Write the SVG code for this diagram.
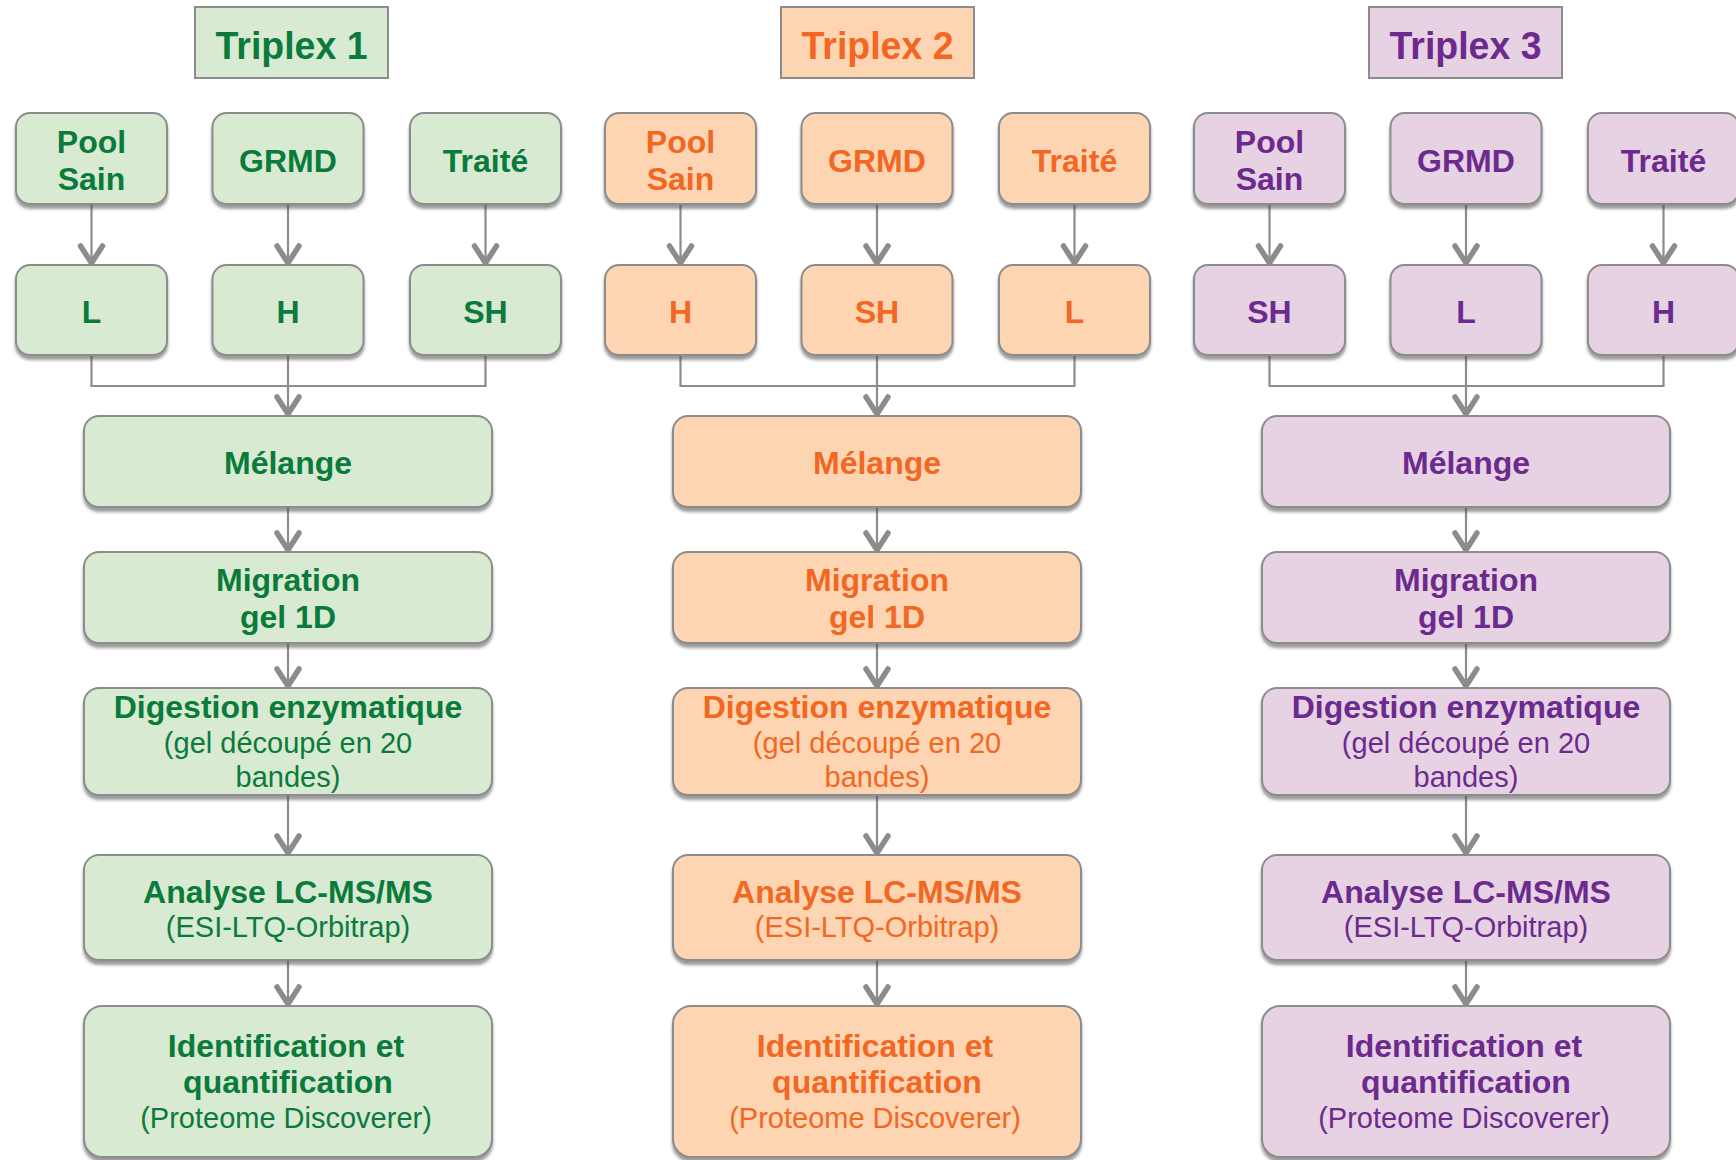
<svg xmlns="http://www.w3.org/2000/svg" width="1736" height="1160" viewBox="0 0 1736 1160">
  <defs>
    <filter id="shadow" x="-5%" y="-5%" width="110%" height="125%">
      <feDropShadow dx="0" dy="4" stdDeviation="1.6" flood-color="#4a4a4a" flood-opacity="0.55"/>
    </filter>
    <marker id="chev" markerUnits="userSpaceOnUse" viewBox="-26 -15 30 30" refX="0" refY="0" markerWidth="30" markerHeight="30" orient="auto">
      <path d="M-19,-11 L-2,0 L-19,11" fill="none" stroke="#8c8c8c" stroke-width="5.5" stroke-linejoin="round" stroke-linecap="round"/>
    </marker>
    <style>
      text { font-family: "Liberation Sans", Arial, sans-serif; text-anchor: middle; }
      .b { font-weight: bold; font-size: 32px; }
      .r { font-weight: normal; font-size: 29px; }
      .ttl { font-weight: bold; font-size: 39px; }
      .box { stroke: #8c8c8c; stroke-width: 2; filter: url(#shadow); }
      .tbox { stroke: #8c8c8c; stroke-width: 2; }
      .wire { fill: none; stroke: #8c8c8c; stroke-width: 2.2; }
      .arrow { fill: none; stroke: #8c8c8c; stroke-width: 2.2; marker-end: url(#chev); }
      .c1 .box, .c1 .tbox { fill: #d9ead2; }
      .c1 text { fill: #0a7b3b; }
      .c2 .box, .c2 .tbox { fill: #fdd5b2; }
      .c2 text { fill: #f26722; }
      .c3 .box, .c3 .tbox { fill: #e6d2e3; }
      .c3 text { fill: #6c2a8e; }
    </style>
  </defs>

  <rect width="1736" height="1160" fill="#ffffff"/>

  <!-- connectors of the three columns (same layout, shifted by 589px) -->
  <g id="connectors">
    <g id="wires-1">
      <line class="arrow" x1="91.5" y1="204" x2="91.5" y2="265"/>
      <line class="arrow" x1="288" y1="204" x2="288" y2="265"/>
      <line class="arrow" x1="485.5" y1="204" x2="485.5" y2="265"/>
      <polyline class="wire" points="91.5,355 91.5,386 485.5,386 485.5,355"/>
      <line class="arrow" x1="288" y1="355" x2="288" y2="416"/>
      <line class="arrow" x1="288" y1="507" x2="288" y2="552"/>
      <line class="arrow" x1="288" y1="643" x2="288" y2="688"/>
      <line class="arrow" x1="288" y1="795" x2="288" y2="855"/>
      <line class="arrow" x1="288" y1="960" x2="288" y2="1006"/>
    </g>
    <g id="wires-2" transform="translate(589,0)">
      <line class="arrow" x1="91.5" y1="204" x2="91.5" y2="265"/>
      <line class="arrow" x1="288" y1="204" x2="288" y2="265"/>
      <line class="arrow" x1="485.5" y1="204" x2="485.5" y2="265"/>
      <polyline class="wire" points="91.5,355 91.5,386 485.5,386 485.5,355"/>
      <line class="arrow" x1="288" y1="355" x2="288" y2="416"/>
      <line class="arrow" x1="288" y1="507" x2="288" y2="552"/>
      <line class="arrow" x1="288" y1="643" x2="288" y2="688"/>
      <line class="arrow" x1="288" y1="795" x2="288" y2="855"/>
      <line class="arrow" x1="288" y1="960" x2="288" y2="1006"/>
    </g>
    <g id="wires-3" transform="translate(1178,0)">
      <line class="arrow" x1="91.5" y1="204" x2="91.5" y2="265"/>
      <line class="arrow" x1="288" y1="204" x2="288" y2="265"/>
      <line class="arrow" x1="485.5" y1="204" x2="485.5" y2="265"/>
      <polyline class="wire" points="91.5,355 91.5,386 485.5,386 485.5,355"/>
      <line class="arrow" x1="288" y1="355" x2="288" y2="416"/>
      <line class="arrow" x1="288" y1="507" x2="288" y2="552"/>
      <line class="arrow" x1="288" y1="643" x2="288" y2="688"/>
      <line class="arrow" x1="288" y1="795" x2="288" y2="855"/>
      <line class="arrow" x1="288" y1="960" x2="288" y2="1006"/>
    </g>
  </g>

  <!-- Triplex 1 (green) -->
  <g id="triplex1" class="c1">
    <g id="t1-title"><rect class="tbox" x="195" y="7" width="193" height="71"/><text class="ttl" x="291.5" y="59" textLength="152" lengthAdjust="spacingAndGlyphs">Triplex 1</text></g>
    <g id="t1-pool"><rect class="box" x="16" y="113" width="151" height="91" rx="14"/><text class="b" x="91.5" y="153">Pool</text><text class="b" x="91.5" y="190">Sain</text></g>
    <g id="t1-grmd"><rect class="box" x="212.5" y="113" width="151" height="91" rx="14"/><text class="b" x="288" y="172">GRMD</text></g>
    <g id="t1-traite"><rect class="box" x="410" y="113" width="151" height="91" rx="14"/><text class="b" x="485.5" y="172">Traité</text></g>
    <g id="t1-l"><rect class="box" x="16" y="265" width="151" height="90" rx="14"/><text class="b" x="91.5" y="323">L</text></g>
    <g id="t1-h"><rect class="box" x="212.5" y="265" width="151" height="90" rx="14"/><text class="b" x="288" y="323">H</text></g>
    <g id="t1-sh"><rect class="box" x="410" y="265" width="151" height="90" rx="14"/><text class="b" x="485.5" y="323">SH</text></g>
    <g id="t1-melange"><rect class="box" x="84" y="416" width="408" height="91" rx="15"/><text class="b" x="288" y="474">Mélange</text></g>
    <g id="t1-migration"><rect class="box" x="84" y="552" width="408" height="91" rx="15"/><text class="b" x="288" y="591">Migration</text><text class="b" x="288" y="628">gel 1D</text></g>
    <g id="t1-digestion"><rect class="box" x="84" y="688" width="408" height="107" rx="15"/><text class="b" x="288" y="718">Digestion enzymatique</text><text class="r" x="288" y="753">(gel découpé en 20</text><text class="r" x="288" y="787">bandes)</text></g>
    <g id="t1-analyse"><rect class="box" x="84" y="855" width="408" height="105" rx="15"/><text class="b" x="288" y="903">Analyse LC-MS/MS</text><text class="r" x="288" y="937">(ESI-LTQ-Orbitrap)</text></g>
    <g id="t1-ident"><rect class="box" x="84" y="1006" width="408" height="151" rx="18"/><text class="b" x="286" y="1057">Identification et</text><text class="b" x="288" y="1093">quantification</text><text class="r" x="286" y="1128">(Proteome Discoverer)</text></g>
  </g>

  <!-- Triplex 2 (orange) -->
  <g id="triplex2" class="c2" transform="translate(589,0)">
    <g id="t2-title"><rect class="tbox" x="192" y="7" width="193" height="71"/><text class="ttl" x="288.5" y="59" textLength="152" lengthAdjust="spacingAndGlyphs">Triplex 2</text></g>
    <g id="t2-pool"><rect class="box" x="16" y="113" width="151" height="91" rx="14"/><text class="b" x="91.5" y="153">Pool</text><text class="b" x="91.5" y="190">Sain</text></g>
    <g id="t2-grmd"><rect class="box" x="212.5" y="113" width="151" height="91" rx="14"/><text class="b" x="288" y="172">GRMD</text></g>
    <g id="t2-traite"><rect class="box" x="410" y="113" width="151" height="91" rx="14"/><text class="b" x="485.5" y="172">Traité</text></g>
    <g id="t2-h"><rect class="box" x="16" y="265" width="151" height="90" rx="14"/><text class="b" x="91.5" y="323">H</text></g>
    <g id="t2-sh"><rect class="box" x="212.5" y="265" width="151" height="90" rx="14"/><text class="b" x="288" y="323">SH</text></g>
    <g id="t2-l"><rect class="box" x="410" y="265" width="151" height="90" rx="14"/><text class="b" x="485.5" y="323">L</text></g>
    <g id="t2-melange"><rect class="box" x="84" y="416" width="408" height="91" rx="15"/><text class="b" x="288" y="474">Mélange</text></g>
    <g id="t2-migration"><rect class="box" x="84" y="552" width="408" height="91" rx="15"/><text class="b" x="288" y="591">Migration</text><text class="b" x="288" y="628">gel 1D</text></g>
    <g id="t2-digestion"><rect class="box" x="84" y="688" width="408" height="107" rx="15"/><text class="b" x="288" y="718">Digestion enzymatique</text><text class="r" x="288" y="753">(gel découpé en 20</text><text class="r" x="288" y="787">bandes)</text></g>
    <g id="t2-analyse"><rect class="box" x="84" y="855" width="408" height="105" rx="15"/><text class="b" x="288" y="903">Analyse LC-MS/MS</text><text class="r" x="288" y="937">(ESI-LTQ-Orbitrap)</text></g>
    <g id="t2-ident"><rect class="box" x="84" y="1006" width="408" height="151" rx="18"/><text class="b" x="286" y="1057">Identification et</text><text class="b" x="288" y="1093">quantification</text><text class="r" x="286" y="1128">(Proteome Discoverer)</text></g>
  </g>

  <!-- Triplex 3 (purple) -->
  <g id="triplex3" class="c3" transform="translate(1178,0)">
    <g id="t3-title"><rect class="tbox" x="191" y="7" width="193" height="71"/><text class="ttl" x="287.5" y="59" textLength="152" lengthAdjust="spacingAndGlyphs">Triplex 3</text></g>
    <g id="t3-pool"><rect class="box" x="16" y="113" width="151" height="91" rx="14"/><text class="b" x="91.5" y="153">Pool</text><text class="b" x="91.5" y="190">Sain</text></g>
    <g id="t3-grmd"><rect class="box" x="212.5" y="113" width="151" height="91" rx="14"/><text class="b" x="288" y="172">GRMD</text></g>
    <g id="t3-traite"><rect class="box" x="410" y="113" width="151" height="91" rx="14"/><text class="b" x="485.5" y="172">Traité</text></g>
    <g id="t3-sh"><rect class="box" x="16" y="265" width="151" height="90" rx="14"/><text class="b" x="91.5" y="323">SH</text></g>
    <g id="t3-l"><rect class="box" x="212.5" y="265" width="151" height="90" rx="14"/><text class="b" x="288" y="323">L</text></g>
    <g id="t3-h"><rect class="box" x="410" y="265" width="151" height="90" rx="14"/><text class="b" x="485.5" y="323">H</text></g>
    <g id="t3-melange"><rect class="box" x="84" y="416" width="408" height="91" rx="15"/><text class="b" x="288" y="474">Mélange</text></g>
    <g id="t3-migration"><rect class="box" x="84" y="552" width="408" height="91" rx="15"/><text class="b" x="288" y="591">Migration</text><text class="b" x="288" y="628">gel 1D</text></g>
    <g id="t3-digestion"><rect class="box" x="84" y="688" width="408" height="107" rx="15"/><text class="b" x="288" y="718">Digestion enzymatique</text><text class="r" x="288" y="753">(gel découpé en 20</text><text class="r" x="288" y="787">bandes)</text></g>
    <g id="t3-analyse"><rect class="box" x="84" y="855" width="408" height="105" rx="15"/><text class="b" x="288" y="903">Analyse LC-MS/MS</text><text class="r" x="288" y="937">(ESI-LTQ-Orbitrap)</text></g>
    <g id="t3-ident"><rect class="box" x="84" y="1006" width="408" height="151" rx="18"/><text class="b" x="286" y="1057">Identification et</text><text class="b" x="288" y="1093">quantification</text><text class="r" x="286" y="1128">(Proteome Discoverer)</text></g>
  </g>
</svg>
